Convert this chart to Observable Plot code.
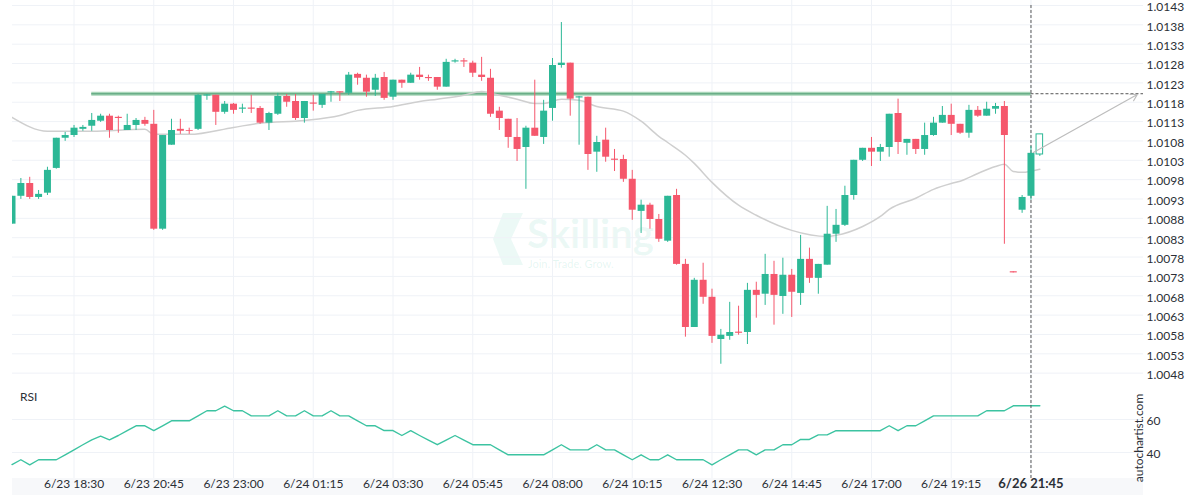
<!DOCTYPE html>
<html><head><meta charset="utf-8">
<script src="https://cdn.jsdelivr.net/npm/d3@7"></script>
<script src="https://cdn.jsdelivr.net/npm/@observablehq/plot@0.6"></script>
<style>
html,body{margin:0;padding:0;background:#fff;}
#wrap{position:relative;width:1200px;height:500px;overflow:hidden;font-family:Lato,"Noto Sans",sans-serif;}
#wrap svg{display:block;}
#price,#rsi{position:relative;}
.band{position:absolute;left:12px;top:478px;width:1131px;height:17px;background:#f7f8fa;}
.rsi{position:absolute;left:20px;top:390px;font-size:12px;line-height:14px;color:#2b2f36;}
.ac{position:absolute;left:1138px;top:438px;font-size:12px;color:#2b2f36;transform:translate(-50%,-50%) rotate(-90deg);white-space:nowrap;}
.wm{position:absolute;left:527px;top:218px;color:rgba(44,184,150,0.09);font-size:40px;font-weight:700;line-height:30px;}
.wm2{position:absolute;left:528px;top:258px;color:rgba(44,184,150,0.13);font-size:11px;line-height:12px;}
.logo{position:absolute;left:493px;top:213px;}
</style>
</head><body>
<div id="wrap">
  <div class="band"></div>
  <svg class="logo" width="30" height="52" viewBox="0 0 30 52"><polygon points="10,0 30,0 18,26 30,52 10,52 0,26" fill="rgba(44,184,150,0.09)"/></svg>
  <div class="wm">Skilling</div>
  <div class="wm2">Join. Trade. Grow.</div>
  <div id="price"></div>
  <div id="rsi"></div>
  <div class="rsi">RSI</div>
  <div class="ac">autochartist.com</div>
</div>
<script>
// ---- data (15-minute bars, index 0..116) ----
const open = [
1.00865,1.00937,1.00970,1.00934,1.00945,1.01009,1.01087,1.01094,1.01110,1.01118,
1.01131,1.01144,1.01141,1.01107,1.01120,1.01133,1.01123,1.00852,1.01069,1.01110,
1.01107,1.01110,1.01196,1.01198,1.01154,1.01175,1.01162,1.01165,1.01164,1.01126,
1.01149,1.01195,1.01182,1.01138,1.01178,1.01172,1.01204,1.01207,1.01203,1.01252,
1.01242,1.01211,1.01244,1.01193,1.01237,1.01229,1.01250,1.01244,1.01244,1.01219,
1.01284,1.01287,1.01281,1.01250,1.01242,1.01157,1.01136,1.01089,1.01063,1.01113,
1.01089,1.01164,1.01275,1.01281,1.01191,1.01193,1.01051,1.01082,1.01033,1.01032,
1.00981,1.00898,1.00914,1.00877,1.00821,1.00939,1.00761,1.00598,1.00720,1.00676,
1.00567,1.00575,1.00586,1.00585,1.00694,1.00684,1.00735,1.00678,1.00733,1.00686,
1.00774,1.00725,1.00759,1.00839,1.00862,1.00939,1.01030,1.01061,1.01051,1.01063,
1.01151,1.01074,1.01084,1.01058,1.01094,1.01126,1.01146,1.01123,1.01100,1.01159,
1.01144,1.01162,1.01169,1.00742,1.00901,1.00937,1.01045];
const high = [
1.00937,1.00983,1.00986,1.00952,1.01012,1.01087,1.01102,1.01120,1.01120,1.01151,
1.01149,1.01149,1.01144,1.01149,1.01138,1.01141,1.01159,1.01094,1.01136,1.01136,
1.01113,1.01200,1.01200,1.01198,1.01182,1.01177,1.01175,1.01198,1.01169,1.01154,
1.01203,1.01200,1.01200,1.01182,1.01198,1.01200,1.01208,1.01207,1.01257,1.01255,
1.01250,1.01252,1.01257,1.01237,1.01237,1.01255,1.01270,1.01250,1.01244,1.01291,
1.01291,1.01293,1.01286,1.01296,1.01265,1.01167,1.01136,1.01138,1.01118,1.01237,
1.01185,1.01293,1.01386,1.01281,1.01195,1.01193,1.01092,1.01113,1.01058,1.01043,
1.01004,1.00927,1.00919,1.00890,1.00937,1.00955,1.00774,1.00725,1.00764,1.00697,
1.00593,1.00663,1.00653,1.00712,1.00715,1.00787,1.00769,1.00777,1.00748,1.00836,
1.00803,1.00761,1.00911,1.00903,1.00963,1.01030,1.01061,1.01089,1.01071,1.01149,
1.01188,1.01084,1.01084,1.01126,1.01141,1.01169,1.01175,1.01123,1.01172,1.01169,
1.01180,1.01177,1.01182,1.00742,1.00939,1.01066,1.01097];
const low = [
1.00865,1.00929,1.00929,1.00929,1.00939,1.01007,1.01079,1.01089,1.01105,1.01105,
1.01128,1.01087,1.01100,1.01107,1.01107,1.01118,1.00849,1.00849,1.01069,1.01097,
1.01097,1.01107,1.01185,1.01120,1.01149,1.01149,1.01151,1.01151,1.01123,1.01107,
1.01146,1.01167,1.01133,1.01126,1.01157,1.01164,1.01180,1.01182,1.01198,1.01224,
1.01193,1.01195,1.01185,1.01185,1.01216,1.01229,1.01237,1.01234,1.01211,1.01219,
1.01281,1.01270,1.01244,1.01234,1.01141,1.01107,1.01061,1.01027,1.00955,1.01092,
1.01071,1.01131,1.01268,1.01144,1.01069,1.01004,1.00999,1.01025,1.01001,1.00973,
1.00875,1.00841,1.00852,1.00818,1.00818,1.00759,1.00573,1.00598,1.00658,1.00557,
1.00503,1.00565,1.00578,1.00554,1.00622,1.00655,1.00604,1.00632,1.00624,1.00655,
1.00712,1.00684,1.00759,1.00818,1.00859,1.00927,1.01027,1.01014,1.01027,1.01038,
1.01045,1.01043,1.01045,1.01043,1.01092,1.01126,1.01094,1.01097,1.01087,1.01141,
1.01144,1.01149,1.00813,1.00739,1.00893,1.00927,1.01040];
const close = [
1.00937,1.00970,1.00934,1.00942,1.01004,1.01087,1.01094,1.01113,1.01115,1.01133,
1.01144,1.01107,1.01138,1.01120,1.01133,1.01123,1.00852,1.01094,1.01107,1.01105,
1.01105,1.01198,1.01199,1.01154,1.01175,1.01159,1.01165,1.01162,1.01126,1.01151,
1.01195,1.01180,1.01138,1.01182,1.01175,1.01200,1.01207,1.01204,1.01250,1.01242,
1.01206,1.01242,1.01190,1.01237,1.01229,1.01250,1.01244,1.01241,1.01219,1.01283,
1.01287,1.01284,1.01255,1.01244,1.01149,1.01138,1.01089,1.01058,1.01113,1.01092,
1.01157,1.01275,1.01281,1.01188,1.01194,1.01045,1.01076,1.01038,1.01030,1.00981,
1.00901,1.00914,1.00877,1.00826,1.00937,1.00761,1.00598,1.00720,1.00676,1.00575,
1.00578,1.00585,1.00583,1.00694,1.00681,1.00735,1.00681,1.00733,1.00689,1.00774,
1.00725,1.00761,1.00839,1.00862,1.00939,1.01030,1.01061,1.01051,1.01063,1.01149,
1.01076,1.01084,1.01058,1.01094,1.01126,1.01146,1.01123,1.01100,1.01159,1.01144,
1.01162,1.01169,1.01094,1.00739,1.00934,1.01048,1.01097];

// moving average readings (bar index, value)
const maBars = [0,4,9,15,16,20,25,28,33,37,39,43,46,48,51,53,54,57,59,60,62,64,66,69,71,73,74,76,77,79,82,84,88,92,93,96,98,99,102,104,106,107,109,111,112,113,114,116];
const maValues = [1.01141,1.01105,1.01105,1.01110,1.01097,1.01097,1.01115,1.01126,1.01133,1.01146,1.01159,1.01169,1.01182,1.01188,1.01198,1.01208,1.01203,1.01188,1.01177,1.01177,1.01188,1.01185,1.01169,1.01157,1.01131,1.01092,1.01076,1.01043,1.01022,1.00973,1.00914,1.00888,1.00849,1.00833,1.00836,1.00859,1.00885,1.00903,1.00932,1.00955,1.00970,1.00976,1.00996,1.01014,1.01020,1.01001,1.00999,1.01007];

// RSI per bar
const rsi = [32.7,35.6,32.5,35.6,35.6,35.6,38.6,41.6,44.7,47.7,
49.9,47.7,50.3,53.3,56.2,56.2,53.3,56.2,59.2,59.2,
59.2,62.2,65.3,65.3,68.1,65.3,65.3,62.2,62.2,62.2,
65.3,62.2,62.2,65.3,62.2,62.2,65.3,62.2,62.2,59.2,
56.2,56.2,53.3,53.3,50.3,53.2,50.3,47.5,44.7,47.5,
50.3,47.5,44.7,44.7,44.7,41.6,38.6,38.6,38.6,38.6,
38.6,41.6,44.7,41.6,41.6,41.6,44.7,41.6,41.6,38.6,
35.6,38.6,35.6,35.6,38.6,35.6,35.6,35.6,35.6,32.5,
35.6,38.6,41.6,41.6,38.6,41.6,41.6,44.7,44.7,47.9,
47.9,50.7,50.7,53.2,53.2,53.2,53.2,53.2,53.2,56.2,
53.2,56.2,56.2,59.2,62.2,62.2,62.2,62.2,62.2,62.2,
65.3,65.3,65.3,68.3,68.3,68.3,68.3];

const tickBars = [7,16,25,34,43,52,61,70,79,88,97,106,115];
const tickLabels = ["6/23 18:30","6/23 20:45","6/23 23:00","6/24 01:15","6/24 03:30","6/24 05:45","6/24 08:00","6/24 10:15","6/24 12:30","6/24 14:45","6/24 17:00","6/24 19:15","6/26 21:45"];
const priceTicks = [1.0048,1.0053,1.0058,1.0063,1.0068,1.0073,1.0078,1.0083,1.0088,1.0093,1.0098,1.0103,1.0108,1.0113,1.0118,1.0123,1.0128,1.0133,1.0138,1.0143];
const rsiTicks = [40,60];

const resistanceLevel = [1.01202];
const resistanceFrom = 9, currentBar = 115, hollowBar = 116;
const forecast = [{x1:115.27, y1:1.01050, x2:127.0, y2:1.01200}];

// ---- scales / layout ----
const xDomain = [0.056, 127.7];
const priceDomain = [1.004481, 1.014429];
const rsiDomain = [24.24, 80.6];
const UP = "#2cb896", DN = "#f5576c", GRID = "#eff2f7", DASH = "#555";

const bars = open.map((o,i) => ({i, o, h: high[i], l: low[i], c: close[i]}));
const col = d => d.c > d.o ? UP : DN;
const filled = bars.filter(d => d.i !== hollowBar);
const hollow = bars.filter(d => d.i === hollowBar);

const common = {
  width: 1200, marginLeft: 12, marginRight: 57,
  style: {background: "transparent", color: "#2b2f36", fontFamily: "Lato, sans-serif", fontSize: "12px"},
  x: {domain: xDomain, axis: null}
};

const pricePlot = Plot.plot({
  ...common,
  height: 385, marginTop: 0, marginBottom: 0,
  y: {domain: priceDomain, axis: null},
  marks: [
    Plot.ruleY(priceTicks, {stroke: GRID}),
    Plot.ruleX(tickBars, {stroke: GRID}),
    Plot.axisY(priceTicks, {anchor: "right", tickSize: 0, tickPadding: 3, dy: 2, tickFormat: d3.format(".4f"), fontSize: 12}),
    Plot.ruleY(resistanceLevel, {x1: resistanceFrom, x2: currentBar, stroke: "#a9d6b9", strokeWidth: 4}),
    Plot.ruleY(resistanceLevel, {x1: resistanceFrom, x2: currentBar, stroke: "#6aae88", strokeWidth: 1.5}),
    Plot.ruleY(resistanceLevel, {x1: currentBar, x2: xDomain[1], stroke: DASH, strokeDasharray: "3,2"}),
    Plot.ruleX([currentBar], {y1: priceTicks[priceTicks.length-1], y2: priceDomain[0], stroke: DASH, strokeDasharray: "3,2"}),
    Plot.line(maBars, {x: d => d, y: (d,i) => maValues[i], curve: "monotone-x", stroke: "#cfcfcf", strokeWidth: 1.5, clip: true}),
    Plot.ruleX(filled, {x: "i", y1: "l", y2: "h", stroke: col, strokeWidth: 1, clip: true}),
    Plot.ruleX(filled, {x: "i", y1: "o", y2: "c", stroke: col, strokeWidth: 7, clip: true}),
    Plot.ruleX(hollow, {x: "i", y1: "l", y2: "h", stroke: UP, strokeWidth: 1}),
    Plot.rect(hollow, {x1: d => d.i - 0.37, x2: d => d.i + 0.37, y1: "o", y2: "c", fill: "white", stroke: UP, strokeWidth: 1}),
    Plot.arrow(forecast, {x1: "x1", y1: "y1", x2: "x2", y2: "y2", stroke: "#bdbdbd", strokeWidth: 1.2, headLength: 9})
  ]
});
document.getElementById("price").append(pricePlot);

const lastTick = tickBars.length - 1;
const rsiPlot = Plot.plot({
  ...common,
  height: 115, marginTop: 0, marginBottom: 22,
  y: {domain: rsiDomain, axis: null},
  marks: [
    Plot.ruleY(rsiTicks, {stroke: GRID}),
    Plot.ruleX(tickBars, {stroke: GRID}),
    Plot.axisY(rsiTicks, {anchor: "right", tickSize: 0, tickPadding: 3, dy: 1.5, fontSize: 12}),
    Plot.line(rsi, {x: (d,i) => i, y: d => d, stroke: "#3cc3a1", strokeWidth: 1.4}),
    Plot.ruleX([currentBar], {stroke: DASH, strokeDasharray: "3,2"}),
    Plot.text(tickLabels.slice(0, lastTick), {x: (d,i) => tickBars[i], text: d => d, frameAnchor: "bottom", dy: 9, fontSize: 12, fill: "#2b2f36"}),
    Plot.text(tickLabels.slice(lastTick), {x: () => tickBars[lastTick], text: d => d, frameAnchor: "bottom", dy: 9, fontSize: 13, fontWeight: "bold", fill: "#2b2f36"})
  ]
});
document.getElementById("rsi").append(rsiPlot);
</script>
</body></html>
